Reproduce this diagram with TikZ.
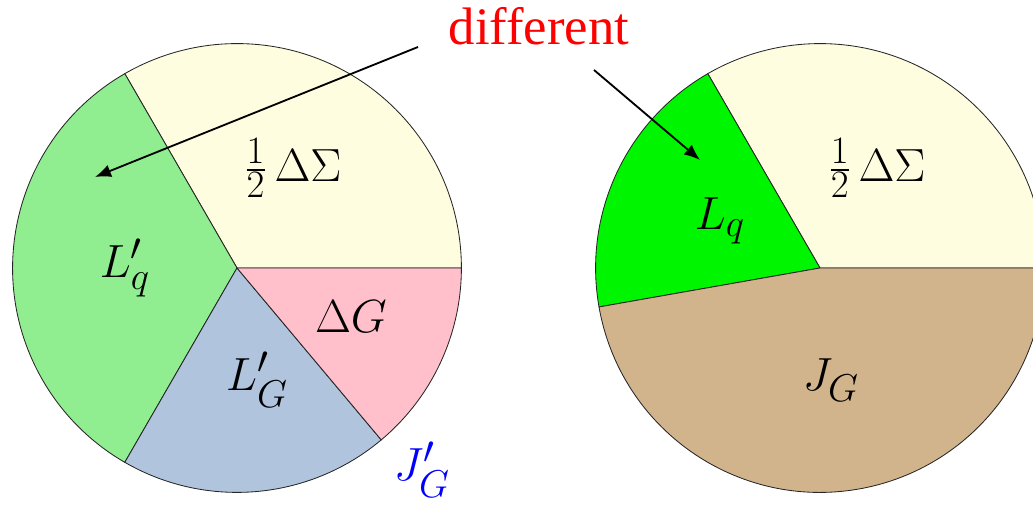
\documentclass[tikz,border=0pt]{standalone}
\usepackage{amsmath}
\usepackage{fontspec}
\newfontfamily\timesfont{Liberation Serif}
\usepackage{tikz}
\usetikzlibrary{arrows.meta}
\usepackage{xcolor}
\definecolor{sigmayellow}{HTML}{FFFDE0}
\definecolor{lqgreen}{HTML}{90EE90}
\definecolor{lgblue}{HTML}{B0C4DE}
\definecolor{dgpink}{HTML}{FFC0CB}
\definecolor{quarkgreen}{HTML}{00F500}
\definecolor{jgtan}{HTML}{D2B48C}
\tikzset{
  slice/.style={draw=black!85, line width=0.6pt},
  lbl/.style={font=\Huge, scale=1.33, inner sep=0pt},
  redlbl/.style={font=\timesfont\fontsize{37.5}{40}\selectfont, text=red, inner sep=0pt},
  pointer/.style={-{Latex[length=4mm,width=3.2mm]}, line width=1.3pt}
}
\begin{document}
\begin{tikzpicture}
\useasboundingbox (0,0) rectangle (25.825,12.65);
\clip (0,0) rectangle (25.825,12.65);
\coordinate (lc) at (5.925,5.95);
\coordinate (rc) at (20.5,5.95);
\filldraw[slice, fill=sigmayellow] (lc) -- ++(0:5.61) arc[start angle=0, end angle=120, radius=5.61] -- cycle;
\filldraw[slice, fill=lqgreen] (lc) -- ++(120:5.61) arc[start angle=120, end angle=240, radius=5.61] -- cycle;
\filldraw[slice, fill=lgblue] (lc) -- ++(240:5.61) arc[start angle=240, end angle=310, radius=5.61] -- cycle;
\filldraw[slice, fill=dgpink] (lc) -- ++(310:5.61) arc[start angle=310, end angle=360, radius=5.61] -- cycle;
\filldraw[slice, fill=sigmayellow] (rc) -- ++(0:5.61) arc[start angle=0, end angle=120, radius=5.61] -- cycle;
\filldraw[slice, fill=quarkgreen] (rc) -- ++(120:5.61) arc[start angle=120, end angle=190, radius=5.61] -- cycle;
\filldraw[slice, fill=jgtan] (rc) -- ++(190:5.61) arc[start angle=190, end angle=360, radius=5.61] -- cycle;
\node[lbl] (lsigma) at (7.325,8.45) {$\tfrac{1}{2}\,\Delta\Sigma$};
\node[lbl] (lq) at (3.125,5.95) {$L'_q$};
\node[lbl] (lgp) at (6.425,3.15) {$L'_G$};
\node[lbl] (ldg) at (8.775,4.725) {$\Delta G$};
\node[lbl, text=blue] (jgp) at (10.55,0.9) {$J'_G$};
\node[lbl] (rsigma) at (21.925,8.45) {$\tfrac{1}{2}\,\Delta\Sigma$};
\node[lbl] (rq) at (18.0,7.125) {$L_q$};
\node[lbl] (rjg) at (20.775,3.15) {$J_G$};
\node[redlbl, anchor=base] (diff) at (13.475,11.525) {different};
\coordinate (diffl) at (10.45,11.475);
\coordinate (diffr) at (14.85,10.9);
\coordinate (lqtip) at (2.375,8.225);
\coordinate (rqtip) at (17.5,8.65);
\draw[pointer] (diffl) -- (lqtip);
\draw[pointer] (diffr) -- (rqtip);
\end{tikzpicture}
\end{document}
